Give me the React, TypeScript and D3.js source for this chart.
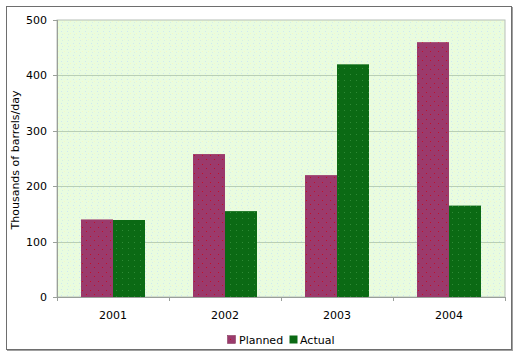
import React from "react";
import * as d3 from "d3";

const years = ["2001", "2002", "2003", "2004"];
const planned = [140, 258, 220, 460];
const actual = [139, 155, 420, 165];
const yTicks = [0, 100, 200, 300, 400, 500];
const seriesNames = ["Planned", "Actual"];

const W = 519;
const H = 357;
const plot = { left: 57, right: 505, top: 20, bottom: 297 };
const font = "'DejaVu Sans', Verdana, sans-serif";
const colPlanned = "#9b3a6c";
const colActual = "#0b6a14";

export default function App() {
  const x0 = d3.scaleBand<string>().domain(years).range([plot.left, plot.right]).paddingInner(0).paddingOuter(0);
  const x1 = d3.scaleBand<string>().domain(seriesNames).range([0, 64]);
  const inner = (x0.bandwidth() - 64) / 2;
  const y = d3.scaleLinear().domain([0, 500]).range([plot.bottom, plot.top]);
  const data = [planned, actual];
  const colors = [colPlanned, colActual];

  return (
    <svg width={W} height={H} style={{ position: "absolute", left: 0, top: 0 }}>
      <defs>
        <pattern id="bg" width="6" height="6" patternUnits="userSpaceOnUse">
          <rect width="6" height="6" fill="#e9fcdf" />
          <rect x="1" y="1" width="1" height="1" fill="#cfe8f0" />
          <rect x="4" y="3" width="1" height="1" fill="#f4f8c8" />
          <rect x="2" y="4" width="1" height="1" fill="#d6eee6" />
        </pattern>
        <pattern id="pp" width="8" height="9" patternUnits="userSpaceOnUse">
          <rect width="8" height="9" fill={colPlanned} />
          <rect x="2" y="2" width="1" height="1" fill="#c0102a" />
          <rect x="6" y="6" width="1" height="1" fill="#c0102a" />
        </pattern>
        <pattern id="pa" width="6" height="6" patternUnits="userSpaceOnUse">
          <rect width="6" height="6" fill={colActual} />
          <rect x="2" y="2" width="1" height="1" fill="#2f8a36" />
        </pattern>
      </defs>
      <rect x={0} y={0} width={W} height={H} fill="#ffffff" />
      {/* outer frame with shadow */}
      <rect x={7.5} y={7.5} width={505} height={343} fill="none" stroke="#a0a0a0" strokeWidth={1} />
      <rect x={6.5} y={6.5} width={505} height={343} fill="#ffffff" stroke="#6e6e6e" strokeWidth={1} />
      {/* plot area */}
      <rect x={plot.left} y={plot.top} width={plot.right - plot.left} height={plot.bottom - plot.top} fill="url(#bg)" stroke="#b8bfb8" strokeWidth={1} />
      {yTicks.filter((t) => t > 0 && t < 500).map((t) => (
        <line key={t} x1={plot.left} x2={plot.right} y1={Math.round(y(t)) + 0.5} y2={Math.round(y(t)) + 0.5} stroke="#b9cfb5" strokeWidth={1} />
      ))}
      {/* bars */}
      {years.map((yr, i) => (
        <g key={yr}>
          {data.map((s, j) => (
            <rect
              key={j}
              x={(x0(yr) as number) + inner + (x1(seriesNames[j]) as number)}
              y={y(s[i])}
              width={x1.bandwidth()}
              height={plot.bottom - y(s[i])}
              fill={j === 0 ? "url(#pp)" : "url(#pa)"}
            />
          ))}
        </g>
      ))}
      {/* axes */}
      <line x1={plot.left + 0.5} x2={plot.left + 0.5} y1={plot.top} y2={plot.bottom} stroke="#9aa09a" />
      <line x1={plot.left} x2={plot.right} y1={plot.bottom + 0.5} y2={plot.bottom + 0.5} stroke="#9aa09a" />
      {yTicks.map((t) => (
        <g key={t}>
          <line x1={plot.left - 4} x2={plot.left} y1={Math.round(y(t)) + 0.5} y2={Math.round(y(t)) + 0.5} stroke="#9aa09a" />
          <text x={47} y={y(t) + 4} textAnchor="end" fontFamily={font} fontSize={11} fill="#000">
            {t}
          </text>
        </g>
      ))}
      {years.map((yr, i) => (
        <g key={yr}>
          <line x1={Math.round((x0(yr) as number) + x0.bandwidth()) + 0.5} x2={Math.round((x0(yr) as number) + x0.bandwidth()) + 0.5} y1={plot.bottom} y2={plot.bottom + 4} stroke="#9aa09a" />
          <text x={(x0(yr) as number) + x0.bandwidth() / 2} y={319} textAnchor="middle" fontFamily={font} fontSize={11} fill="#000">
            {yr}
          </text>
        </g>
      ))}
      <line x1={plot.left + 0.5} x2={plot.left + 0.5} y1={plot.bottom} y2={plot.bottom + 4} stroke="#9aa09a" />
      <text transform={`translate(19,160) rotate(-90)`} textAnchor="middle" fontFamily={font} fontSize={11} fill="#000">
        Thousands of barrels/day
      </text>
      {/* legend */}
      <rect x={227.5} y={335.5} width={8} height={8} fill="url(#pp)" stroke="#7a2a50" strokeWidth={0.5} />
      <text x={239} y={344} fontFamily={font} fontSize={11} fill="#000">{seriesNames[0]}</text>
      <rect x={289.5} y={335.5} width={8} height={8} fill={colActual} />
      <text x={300} y={344} fontFamily={font} fontSize={11} fill="#000">{seriesNames[1]}</text>
    </svg>
  );
}
